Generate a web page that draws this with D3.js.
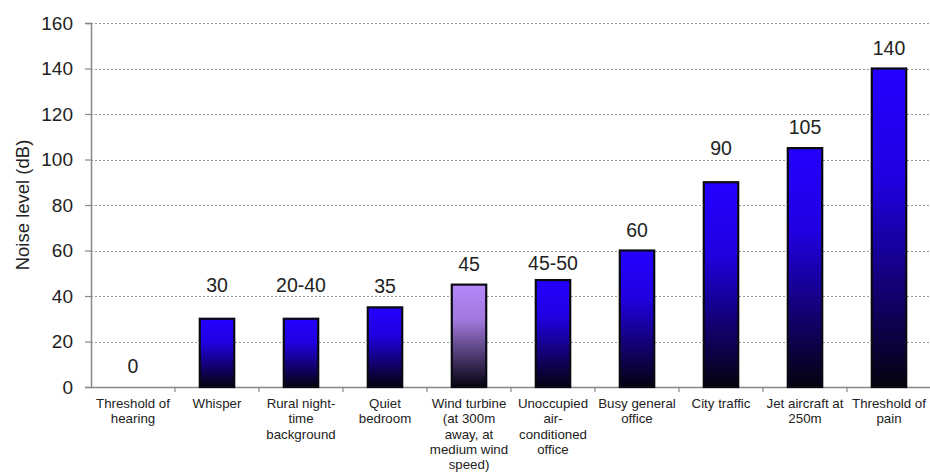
<!DOCTYPE html>
<html>
<head>
<meta charset="utf-8">
<script src="https://cdn.jsdelivr.net/npm/d3@7"></script>
<style>
  html, body { margin: 0; padding: 0; background: #fff; }
  svg { display: block; font-family: "Liberation Sans", Arial, sans-serif; }
</style>
</head>
<body>
<svg id="chart" width="930" height="472"></svg>
<script>
// Typical noise levels of everyday sources
const categories = [
  "Threshold of hearing",
  "Whisper",
  "Rural night-time background",
  "Quiet bedroom",
  "Wind turbine (at 300m away, at medium wind speed)",
  "Unoccupied air-conditioned office",
  "Busy general office",
  "City traffic",
  "Jet aircraft at 250m",
  "Threshold of pain"
];
// wrapped category labels, one entry per line
const categoryLines = [
  ["Threshold of", "hearing"],
  ["Whisper"],
  ["Rural night-", "time", "background"],
  ["Quiet", "bedroom"],
  ["Wind turbine", "(at 300m", "away, at", "medium wind", "speed)"],
  ["Unoccupied", "air-", "conditioned", "office"],
  ["Busy general", "office"],
  ["City traffic"],
  ["Jet aircraft at", "250m"],
  ["Threshold of", "pain"]
];
const values = [0, 30, 30, 35, 45, 47, 60, 90, 105, 140];
const valueLabels = ["0", "30", "20-40", "35", "45", "45-50", "60", "90", "105", "140"];
const yTicks = [0, 20, 40, 60, 80, 100, 120, 140, 160];
const highlighted = "Wind turbine (at 300m away, at medium wind speed)";

// layout: extra lift (px) for a few hand-placed value labels
const labelLift = [0, 13, 13, 0, 0, -4, 0, 13, 0, 0];

const svg = d3.select("#chart");
const margin = { left: 91, right: 0, top: 23, bottom: 85 };
const W = 930, H = 472;

const x = d3.scaleBand()
  .domain(categories)
  .range([margin.left, W - margin.right + 1])
  .paddingInner(0.59)
  .paddingOuter(0.295);
const band = d3.scaleBand().domain(categories).range([margin.left, W - margin.right + 1]);

const y = d3.scaleLinear().domain([0, 160]).range([H - margin.bottom, margin.top]);

// gradients: bright at the top fading to black at the base
const defs = svg.append("defs");
function grad(id, top) {
  const g = defs.append("linearGradient").attr("id", id)
    .attr("x1", 0).attr("y1", 0).attr("x2", 0).attr("y2", 1);
  g.append("stop").attr("offset", "0%").attr("stop-color", top);
  g.append("stop").attr("offset", "35%").attr("stop-color", d3.interpolateRgb(top, "#000")(0.12));
  g.append("stop").attr("offset", "100%").attr("stop-color", "#05020f");
}
grad("blueGrad", "#2400ff");
grad("purpleGrad", "#b688fa");

// dotted gridlines
svg.append("g")
  .selectAll("line")
  .data(yTicks.filter(d => d > 0))
  .join("line")
  .attr("x1", margin.left).attr("x2", W)
  .attr("y1", d => Math.round(y(d)) + 0.5).attr("y2", d => Math.round(y(d)) + 0.5)
  .attr("stroke", "#9a9a9a").attr("stroke-width", 1)
  .attr("stroke-dasharray", "2,2");

// y axis
const yAxis = svg.append("g")
  .attr("transform", `translate(${margin.left},0)`)
  .call(d3.axisLeft(y).tickValues(yTicks).tickSize(6).tickPadding(12));
yAxis.select(".domain").attr("stroke", "#888").attr("stroke-width", 1.5);
yAxis.selectAll(".tick line").attr("stroke", "#888").attr("stroke-width", 1.2);
yAxis.selectAll(".tick text")
  .attr("font-size", 19).attr("fill", "#222")
  .attr("font-family", "Liberation Sans, Arial, sans-serif");

// x axis baseline and category separators
const xAxis = svg.append("g")
  .attr("transform", `translate(0,${y(0)})`)
  .call(d3.axisBottom(band).tickSize(0).tickFormat(""));
xAxis.select(".domain").attr("stroke", "#888").attr("stroke-width", 1.5);
svg.append("g")
  .selectAll("line")
  .data(categories)
  .join("line")
  .attr("x1", d => band(d) + band.bandwidth()).attr("x2", d => band(d) + band.bandwidth())
  .attr("y1", y(0)).attr("y2", y(0) + 5)
  .attr("stroke", "#888").attr("stroke-width", 1.2);

// bars
svg.append("g")
  .selectAll("rect")
  .data(categories)
  .join("rect")
  .filter((d, i) => values[i] > 0)
  .attr("x", d => x(d))
  .attr("width", x.bandwidth())
  .attr("y", d => y(values[categories.indexOf(d)]))
  .attr("height", d => y(0) - y(values[categories.indexOf(d)]))
  .attr("fill", d => d === highlighted ? "url(#purpleGrad)" : "url(#blueGrad)")
  .attr("stroke", "#0a0a14").attr("stroke-width", 2.2);

// value labels above bars
svg.append("g")
  .selectAll("text")
  .data(categories)
  .join("text")
  .attr("x", d => band(d) + band.bandwidth() / 2)
  .attr("y", (d, i) => y(values[i]) - 14 - labelLift[i])
  .attr("text-anchor", "middle")
  .attr("font-size", 19.5).attr("fill", "#222")
  .text((d, i) => valueLabels[i]);

// category labels
const catG = svg.append("g")
  .selectAll("text")
  .data(categories)
  .join("text")
  .attr("x", d => band(d) + band.bandwidth() / 2)
  .attr("y", y(0) + 21)
  .attr("text-anchor", "middle")
  .attr("font-size", 13.3).attr("fill", "#222");
catG.selectAll("tspan")
  .data((d, i) => categoryLines[i])
  .join("tspan")
  .attr("x", function () { return d3.select(this.parentNode).attr("x"); })
  .attr("dy", (d, j) => j === 0 ? 0 : 15.3)
  .text(d => d);

// y axis title
svg.append("text")
  .attr("transform", `translate(29,${(y(0) + y(160)) / 2}) rotate(-90)`)
  .attr("text-anchor", "middle")
  .attr("font-size", 18.5).attr("fill", "#222")
  .text("Noise level (dB)");
</script>
</body>
</html>
